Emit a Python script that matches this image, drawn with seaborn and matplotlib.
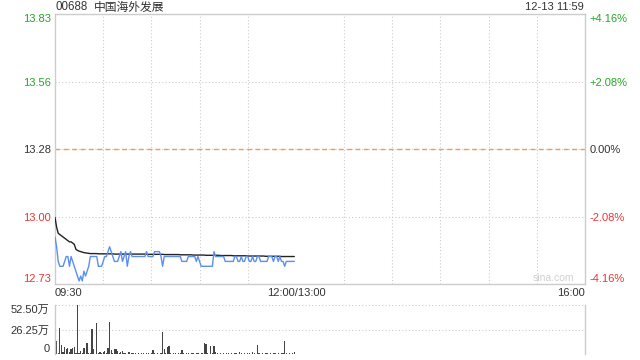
import numpy as np
import pandas as pd
import matplotlib
matplotlib.use("Agg")
import matplotlib.pyplot as plt
import seaborn as sns

# ---------------- data ----------------
prev_close = 13.28
title_code = "00688"
title_name = "中国海外发展"
stamp = "12-13 11:59"
left_ticks = ["13.83", "13.56", "13.28", "13.00", "12.73"]
right_ticks = ["+4.16%", "+2.08%", "0.00%", "-2.08%", "-4.16%"]
pct_levels = [0.0416, 0.0208, 0.0, -0.0208, -0.0416]
time_labels = ["09:30", "12:00/13:00", "16:00"]
time_pos = [0, 150, 330]
vol_ticks = [0, 26.25, 52.5]
vol_labels = ["0", "26.25万", "52.50万"]

minutes = list(range(150))

price = [12.92, 12.88, 12.82, 12.80, 12.80, 12.80, 12.82, 12.84, 12.84, 12.80,
         12.84, 12.82, 12.80, 12.78, 12.76, 12.74, 12.76, 12.74, 12.78, 12.76,
         12.78, 12.80, 12.84, 12.84, 12.84, 12.84, 12.84, 12.80, 12.80, 12.80,
         12.82, 12.84, 12.84, 12.86, 12.88, 12.86, 12.84, 12.82, 12.82, 12.82,
         12.84, 12.86, 12.82, 12.84, 12.86, 12.80, 12.84, 12.86, 12.84, 12.84,
         12.84, 12.84, 12.84, 12.84, 12.84, 12.84, 12.84, 12.86, 12.84, 12.84,
         12.84, 12.84, 12.86, 12.86, 12.86, 12.86, 12.84, 12.80, 12.84, 12.84,
         12.84, 12.84, 12.84, 12.84, 12.84, 12.84, 12.84, 12.84, 12.84, 12.82,
         12.82, 12.82, 12.82, 12.84, 12.84, 12.84, 12.84, 12.84, 12.82, 12.84,
         12.82, 12.80, 12.80, 12.80, 12.80, 12.80, 12.80, 12.80, 12.80, 12.86,
         12.84, 12.84, 12.84, 12.84, 12.84, 12.84, 12.82, 12.82, 12.82, 12.82,
         12.82, 12.82, 12.84, 12.84, 12.82, 12.82, 12.84, 12.82, 12.82, 12.84,
         12.84, 12.82, 12.82, 12.84, 12.82, 12.82, 12.84, 12.84, 12.82, 12.82,
         12.82, 12.82, 12.82, 12.84, 12.84, 12.84, 12.82, 12.84, 12.84, 12.82,
         12.84, 12.82, 12.82, 12.80, 12.82, 12.82, 12.82, 12.82, 12.82, 12.82]

avg_price = [13.000, 12.960, 12.935, 12.930, 12.925, 12.920, 12.915, 12.910, 12.905, 12.900,
             12.900, 12.895, 12.890, 12.870, 12.865, 12.862, 12.860, 12.858, 12.856, 12.855,
             12.854, 12.853, 12.852, 12.852, 12.852, 12.852, 12.852, 12.851, 12.851, 12.851,
             12.851, 12.851, 12.851, 12.851, 12.851, 12.851, 12.851, 12.850, 12.850, 12.850,
             12.850, 12.850, 12.850, 12.850, 12.850, 12.850, 12.850, 12.850, 12.850, 12.850,
             12.850, 12.850, 12.850, 12.850, 12.850, 12.850, 12.850, 12.849, 12.849, 12.849,
             12.849, 12.849, 12.849, 12.849, 12.849, 12.849, 12.849, 12.849, 12.848, 12.848,
             12.848, 12.848, 12.848, 12.848, 12.848, 12.848, 12.848, 12.848, 12.847, 12.847,
             12.847, 12.847, 12.847, 12.847, 12.847, 12.847, 12.846, 12.846, 12.846, 12.846,
             12.846, 12.846, 12.846, 12.846, 12.845, 12.845, 12.845, 12.845, 12.845, 12.845,
             12.845, 12.845, 12.845, 12.844, 12.844, 12.844, 12.844, 12.844, 12.844, 12.844,
             12.844, 12.843, 12.843, 12.843, 12.843, 12.843, 12.843, 12.843, 12.843, 12.843,
             12.842, 12.842, 12.842, 12.842, 12.842, 12.842, 12.842, 12.842, 12.842, 12.842,
             12.842, 12.841, 12.841, 12.841, 12.841, 12.841, 12.841, 12.841, 12.841, 12.841,
             12.841, 12.840, 12.840, 12.840, 12.840, 12.840, 12.840, 12.840, 12.840, 12.840]

volume = [46.0, 13.4, 1.0, 28.0, 10.0, 2.0, 7.0, 5.0, 6.0, 2.0,
          5.0, 6.0, 7.0, 1.0, 52.5, 1.0, 3.5, 1.0, 6.0, 0.5,
          12.0, 1.0, 1.0, 27.3, 5.5, 0.5, 33.0, 1.0, 2.0, 1.0,
          2.0, 3.5, 1.0, 6.0, 34.0, 4.0, 1.0, 5.0, 5.0, 3.0,
          1.0, 2.0, 3.0, 1.0, 1.0, 0.5, 2.0, 0.5, 1.0, 1.0,
          1.0, 0.5, 1.0, 0.5, 1.0, 1.0, 0.5, 1.0, 1.0, 0.5,
          1.0, 4.2, 1.0, 0.5, 1.0, 0.5, 1.0, 23.8, 5.0, 1.0,
          7.7, 8.8, 1.0, 0.5, 1.0, 1.0, 0.5, 1.0, 1.0, 4.2,
          1.0, 0.5, 1.0, 1.0, 0.5, 1.0, 1.0, 0.5, 1.0, 1.0,
          0.5, 1.0, 1.0, 12.3, 11.2, 1.0, 0.5, 9.0, 1.0, 9.0,
          1.75, 1.0, 0.5, 1.0, 0.5, 1.0, 0.5, 1.0, 1.0, 0.5,
          1.0, 0.5, 1.0, 1.0, 0.5, 1.75, 1.0, 0.5, 1.0, 0.5,
          1.0, 1.0, 0.5, 1.75, 1.0, 0.5, 9.8, 1.0, 0.5, 1.0,
          0.5, 1.0, 1.0, 0.5, 1.0, 0.5, 1.0, 1.0, 0.5, 1.0,
          0.5, 1.0, 1.0, 14.4, 1.0, 0.5, 1.0, 0.5, 1.0, 1.75]

# ---------------- style ----------------
sns.set_theme(style="white")
plt.rcParams["font.family"] = ["Liberation Sans", "Noto Sans CJK SC", "DejaVu Sans"]

GREEN = "#22a822"
RED = "#ee3333"
TXT = "#333333"
BORDER = "#cccccc"
GRID = dict(color="#cccccc", linestyle=(0, (1, 2)), linewidth=0.8)

W, H = 640, 360
fig = plt.figure(figsize=(6.4, 3.6), dpi=100)
fig.patch.set_facecolor("white")
ax = fig.add_axes([55 / W, 1 - 284 / H, 530 / W, 270 / H])
axv = fig.add_axes([55 / W, 1 - 354 / H, 530 / W, 49 / H])

df = pd.DataFrame({"m": minutes, "price": price, "avg": avg_price, "vol": volume})

# ---------------- price panel ----------------
ylo = prev_close * (1 + pct_levels[-1])
yhi = prev_close * (1 + pct_levels[0])
tick_vals = [prev_close * (1 + p) for p in pct_levels]

ax.set_xlim(0, 330)
ax.set_ylim(ylo, yhi)
ax.set_xticks([30 * k for k in range(1, 11)], minor=True)
ax.grid(which="minor", axis="x", **GRID)
ax.set_yticks(tick_vals)
ax.grid(which="major", axis="y", **GRID)
ax.set_axisbelow(True)
ax.axhline(prev_close, color="#f29b55", linestyle=(0, (3.5, 2.5)), linewidth=1.0, zorder=1)

sns.lineplot(data=df, x="m", y="avg", ax=ax, color="#222222", linewidth=1.0, zorder=3)
sns.lineplot(data=df, x="m", y="price", ax=ax, color="#5b8ff0", linewidth=1.0, zorder=4)
ax.set_xlabel("")
ax.set_ylabel("")

for s in ax.spines.values():
    s.set_color(BORDER)
    s.set_linewidth(1.0)

ax.set_yticklabels(left_ticks)
lcolors = [GREEN, GREEN, TXT, RED, RED]
ax.tick_params(axis="y", which="major", length=0, pad=3, labelsize=8)
for lab, c in zip(ax.get_yticklabels(), lcolors):
    lab.set_color(c)
ax.get_yticklabels()[0].set_va("top")
ax.get_yticklabels()[-1].set_va("bottom")

ax.set_xticks(time_pos)
ax.set_xticklabels(time_labels)
ax.tick_params(axis="x", which="both", length=0, pad=3, labelsize=8, labelcolor=TXT)
xl = ax.get_xticklabels()
xl[0].set_ha("left")
xl[1].set_ha("center")
xl[2].set_ha("right")

ax2 = ax.twinx()
ax2.set_ylim(ylo, yhi)
ax2.set_yticks(tick_vals)
ax2.set_yticklabels(right_ticks)
ax2.tick_params(axis="y", length=0, pad=3, labelsize=8)
for lab, c in zip(ax2.get_yticklabels(), lcolors):
    lab.set_color(c)
ax2.get_yticklabels()[0].set_va("top")
ax2.get_yticklabels()[-1].set_va("bottom")
for s in ax2.spines.values():
    s.set_visible(False)
ax2.grid(False)

ax.text(0.979, 0.022, "sina.com", transform=ax.transAxes, ha="right", va="center",
        fontsize=7.5, color="#cfcfcf", zorder=0)

# ---------------- volume panel ----------------
sns.barplot(data=df, x="m", y="vol", ax=axv, native_scale=True, color="#444444",
            saturation=1, width=0.8, errorbar=None, linewidth=0)
axv.set_xlim(0, 330)
axv.set_ylim(0, 52.5)
axv.set_yticks(vol_ticks)
axv.set_yticklabels(vol_labels)
axv.set_xticks([])
axv.set_xlabel("")
axv.set_ylabel("")
axv.grid(axis="y", **GRID)
axv.grid(axis="x", visible=False)
axv.set_axisbelow(True)
axv.tick_params(axis="y", length=0, pad=4, labelsize=8, labelcolor=TXT)
vl = axv.get_yticklabels()
vl[0].set_va("bottom")
vl[-1].set_va("top")
for name, s in axv.spines.items():
    if name in ("left", "right"):
        s.set_color(BORDER)
        s.set_linewidth(1.0)
    else:
        s.set_visible(False)

# ---------------- titles ----------------
fig.text(55 / W, 1 - 7.5 / H, title_code, ha="left", va="center", fontsize=8.3, color=TXT)
fig.text(94 / W, 1 - 7.5 / H, title_name, ha="left", va="center", fontsize=8.5, color=TXT,
         family=["Noto Sans CJK SC", "DejaVu Sans"])
fig.text(584 / W, 1 - 7.5 / H, stamp, ha="right", va="center", fontsize=8, color=TXT)

fig.savefig("out.png", dpi=100, facecolor="white")
